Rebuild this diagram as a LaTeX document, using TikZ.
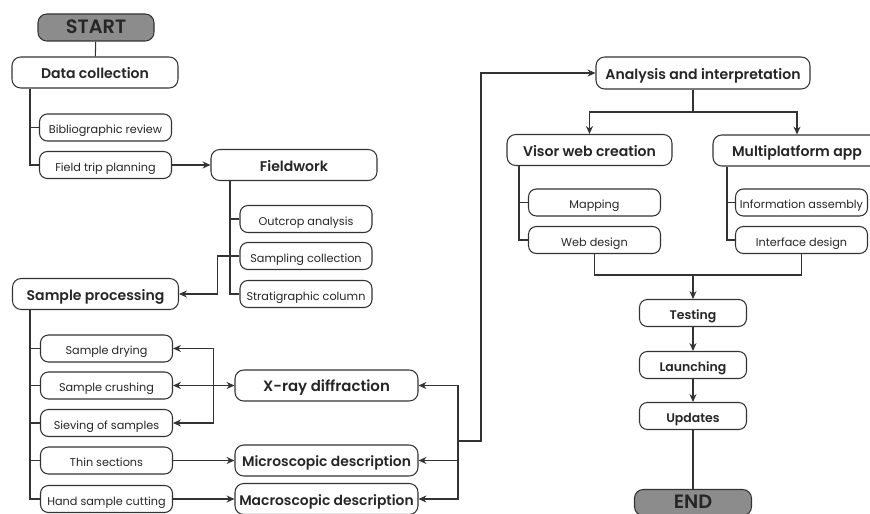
\documentclass[tikz,border=0pt]{standalone}
\usepackage{fontspec}
\setmainfont{Poppins}[BoldFont={Poppins SemiBold}]
\usetikzlibrary{arrows.meta,positioning}
\definecolor{linegray}{HTML}{333333}
\definecolor{termgray}{HTML}{8C8C8C}
\definecolor{textgray}{HTML}{262626}

\begin{document}
\begin{tikzpicture}[
    >={Stealth[length=4.5pt,width=4pt]},
    line width=0.6pt, draw=linegray, text=textgray,
    terminal/.style={rectangle, draw=linegray, fill=termgray, rounded corners=5pt, minimum width=2.32cm, minimum height=0.54cm, inner sep=0pt, text height=0.7em, text depth=0pt, font=\fontsize{11}{12}\selectfont\bfseries},
    main/.style={rectangle, draw=linegray, fill=white, rounded corners=5pt, minimum width=3.32cm, minimum height=0.62cm, inner sep=1pt, text height=0.7em, text depth=0pt, font=\fontsize{8}{9}\selectfont\bfseries},
    sub/.style={rectangle, draw=linegray, fill=white, rounded corners=4.5pt, minimum width=2.64cm, minimum height=0.54cm, inner sep=1pt, text height=0.7em, text depth=0pt, font=\fontsize{6.4}{7}\selectfont},
    stage/.style={rectangle, draw=linegray, fill=white, rounded corners=4.5pt, minimum width=2.14cm, minimum height=0.54cm, inner sep=1pt, text height=0.7em, text depth=0pt, font=\fontsize{7.1}{8}\selectfont\bfseries},
    lab/.style={main, minimum width=3.66cm, font=\fontsize{7.9}{9}\selectfont\bfseries}
]
\useasboundingbox (0,0) rectangle (17.40,-10.28);

% Data collection & Fieldwork
\node[terminal] (startnode) at (1.92, -0.55) {START};
\node[main] (datacoll) at (1.90, -1.45) {Data collection};
\node[sub] (biblio) at (2.11, -2.55) {Bibliographic review};
\node[sub] (trip) at (2.11, -3.30) {Field trip planning};

\node[main] (fieldwork) at (5.88, -3.30) {Fieldwork};
\node[sub] (outcrop) at (6.12, -4.38) {Outcrop analysis};
\node[sub] (sampling) at (6.12, -5.12) {Sampling collection};
\node[sub] (strati) at (6.12, -5.88) {Stratigraphic column};

% Sample processing & Laboratory
\node[main] (sproc) at (1.91, -5.88) {Sample processing};
\node[sub] (drying) at (2.13, -6.97) {Sample drying};
\node[sub] (crushing) at (2.13, -7.71) {Sample crushing};
\node[sub] (sieving) at (2.13, -8.46) {Sieving of samples};
\node[sub] (thin) at (2.13, -9.21) {Thin sections};
\node[sub] (hand) at (2.13, -9.98) {Hand sample cutting};

\node[lab, font=\fontsize{8.5}{9.5}\selectfont\bfseries] (xray) at (6.53, -7.71) {X-ray diffraction};
\node[lab] (micro) at (6.53, -9.21) {Microscopic description};
\node[lab] (macro) at (6.53, -9.98) {Macroscopic description};

% Analysis & Products
\node[main, minimum width=4.28cm, minimum height=0.64cm] (analysis) at (14.06, -1.46) {Analysis and interpretation};
\node[main, minimum width=3.30cm] (visor) at (11.79, -3.00) {Visor web creation};
\node[main, minimum width=3.36cm] (multi) at (15.94, -3.01) {Multiplatform app};
\node[sub] (mapping) at (11.89, -4.05) {Mapping};
\node[sub] (webdes) at (11.89, -4.80) {Web design};
\node[sub] (infoasm) at (16.03, -4.05) {Information assembly};
\node[sub] (iface) at (16.03, -4.80) {Interface design};

% Release
\node[stage] (testing) at (13.86, -6.26) {Testing};
\node[stage] (launch) at (13.86, -7.30) {Launching};
\node[stage] (updates) at (13.86, -8.32) {Updates};
\node[terminal, minimum width=2.34cm, minimum height=0.52cm] (endnode) at (13.86, -10.05) {END};

\coordinate (hub) at (9.16, -8.82);
\coordinate (split) at (13.86, -2.24);
\coordinate (merge) at (13.86, -5.50);

% Arrows
\draw (startnode) -- (datacoll);
\draw (datacoll.south) ++(-1.30,0) |- (trip.west);
\draw (biblio.west) -- ++(-0.19,0);
\draw[->] (trip) -- (fieldwork);

\draw (fieldwork.south) ++(-1.28,0) |- (strati.west);
\draw (outcrop.west) -- ++(-0.20,0);
\draw[->] (sampling.west) -- ++(-0.44,0) |- (sproc.east);

\draw (sproc.south) ++(-1.31,0) |- (hand.west);
\foreach \n in {drying,crushing,sieving,thin}
    \draw (\n.west) -- ++(-0.21,0);

\draw[<->] (crushing.east) -- (xray.west);
\draw[->] (crushing.east) ++(0.81,0) |- (drying.east);
\draw[->] (crushing.east) ++(0.81,0) |- (sieving.east);
\draw[->] (thin) -- (micro);
\draw[->] (hand) -- (macro);

\draw[->] (hub) |- (xray.east);
\draw[->] (hub) |- (micro.east);
\draw[->] (hub) |- (macro.east);
\draw[->] (hub) -- ++(0.46,0) |- (analysis.west);

\draw (analysis.south -| split) -- (split);
\draw[->] (split) -| (visor.north);
\draw[->] (split) -| (multi.north);

\draw (visor.south) ++(-1.41,0) |- (webdes.west);
\draw (mapping.west) -- ++(-0.19,0);
\draw (multi.south) ++(-1.40,0) |- (iface.west);
\draw (infoasm.west) -- ++(-0.17,0);

\draw (webdes.south) |- (merge) -| (iface.south);
\draw[->] (merge) -- (testing);
\draw[->] (testing) -- (launch);
\draw[->] (launch) -- (updates);
\draw (updates) -- (endnode);

\end{tikzpicture}
\end{document}
